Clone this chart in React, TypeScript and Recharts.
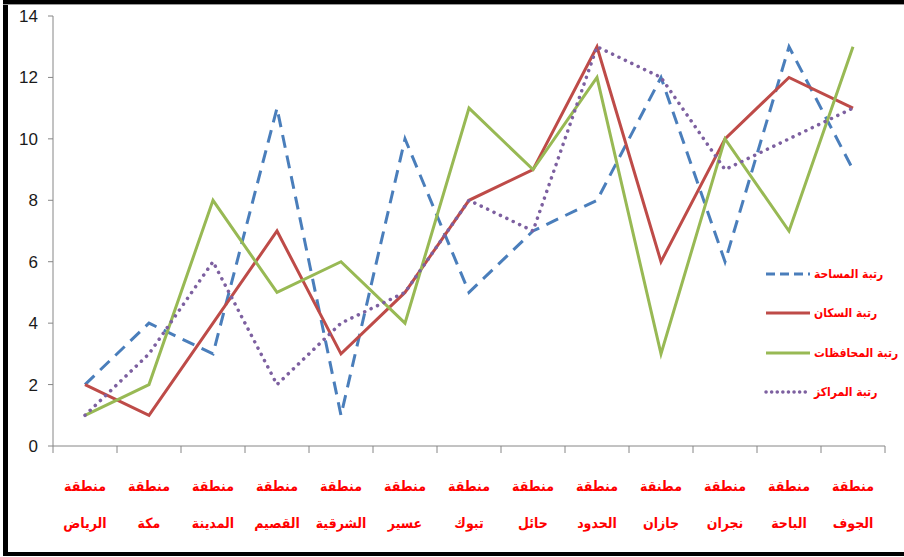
import React from 'react';
import { LineChart, Line, XAxis, YAxis, Legend } from 'recharts';

const regionPrefix = ['منطقة', 'منطقة', 'منطقة', 'منطقة', 'منطقة', 'منطقة', 'منطقة', 'منطقة', 'منطقة', 'مطنقة', 'منطقة', 'منطقة', 'منطقة'];
const regionNames = ['الرياض', 'مكة', 'المدينة', 'القصيم', 'الشرقية', 'عسير', 'تبوك', 'حائل', 'الحدود', 'جازان', 'نجران', 'الباحة', 'الجوف'];

const areaRank = [2, 4, 3, 11, 1, 10, 5, 7, 8, 12, 6, 13, 9];
const populationRank = [2, 1, 4, 7, 3, 5, 8, 9, 13, 6, 10, 12, 11];
const governoratesRank = [1, 2, 8, 5, 6, 4, 11, 9, 12, 3, 10, 7, 13];
const centersRank = [1, 3, 6, 2, 4, 5, 8, 7, 13, 12, 9, 10, 11];

const yTicks = [0, 2, 4, 6, 8, 10, 12, 14];

const seriesNames = ['رتبة المساحة', 'رتبة السكان', 'رتبة المحافظات', 'رتبة المراكز'];

const data = regionNames.map((n, i) => ({
  name: regionPrefix[i] + ' ' + n,
  prefix: regionPrefix[i],
  region: n,
  area: areaRank[i],
  pop: populationRank[i],
  gov: governoratesRank[i],
  cen: centersRank[i],
}));

const series = [
  { key: 'area', name: seriesNames[0], color: '#4A7EBB', dash: '13 8', legendDash: '9 5', cap: 'butt' as const, width: 3 },
  { key: 'pop', name: seriesNames[1], color: '#BE4B48', dash: undefined, legendDash: undefined, cap: 'butt' as const, width: 3 },
  { key: 'gov', name: seriesNames[2], color: '#98B954', dash: undefined, legendDash: undefined, cap: 'butt' as const, width: 3 },
  { key: 'cen', name: seriesNames[3], color: '#7D60A0', dash: '0.1 7', legendDash: '0.1 5.5', cap: 'round' as const, width: 3.5 },
];

const AXIS = '#868686';
const ARABIC = "'DejaVu Sans Condensed', 'DejaVu Sans'";

const XTick = (props: any) => {
  const { x, payload, index, visibleTicksCount } = props;
  const off = payload && payload.offset ? payload.offset : 0;
  const d = data[index];
  const top = 446;
  return (
    <g>
      <line x1={x - off} y1={top} x2={x - off} y2={top + 7} stroke={AXIS} strokeWidth={1} />
      {index === (visibleTicksCount ?? data.length) - 1 && (
        <line x1={x + off} y1={top} x2={x + off} y2={top + 7} stroke={AXIS} strokeWidth={1} />
      )}
      <text x={x} y={top + 45} textAnchor="middle" fill="#FF0000" fontFamily={ARABIC} fontWeight="bold" fontSize={14}>
        {d ? d.prefix : ''}
      </text>
      <text x={x} y={top + 82} textAnchor="middle" fill="#FF0000" fontFamily={ARABIC} fontWeight="bold" fontSize={14}>
        {d ? d.region : ''}
      </text>
    </g>
  );
};

const LegendContent = () => (
  <div style={{ display: 'flex', flexDirection: 'column' }}>
    {series.map((s) => (
      <div key={s.key} style={{ display: 'flex', alignItems: 'center', height: 39.5 }}>
        <svg width={48} height={10} style={{ display: 'block' }}>
          <line x1={2} y1={5} x2={46} y2={5} stroke={s.color} strokeWidth={s.width}
            strokeDasharray={s.legendDash} strokeLinecap={s.cap} />
        </svg>
        <span style={{ color: '#FF0000', fontFamily: ARABIC, fontWeight: 'bold', fontSize: 12, marginLeft: 2, direction: 'rtl', whiteSpace: 'nowrap' }}>
          {s.name}
        </span>
      </div>
    ))}
  </div>
);

export default function App() {
  return (
    <div style={{ position: 'absolute', left: 0, top: 0, width: 904, height: 557, background: '#fff', overflow: 'hidden' }}>
      <LineChart width={904} height={557} data={data} margin={{ top: 16, right: 19, left: 0, bottom: 0 }}>
        <YAxis
          domain={[0, 14]}
          ticks={yTicks}
          width={53}
          interval={0}
          axisLine={{ stroke: AXIS }}
          tickLine={{ stroke: AXIS }}
          tickSize={5}
          tickMargin={10}
          tick={{ fill: '#1a1a1a', fontSize: 17, fontFamily: 'Liberation Sans Narrow, Liberation Sans' }}
        />
        <XAxis
          dataKey="name"
          scale="band"
          height={111}
          interval={0}
          axisLine={{ stroke: AXIS }}
          tickLine={false}
          tick={<XTick />}
        />
        <Legend
          layout="vertical"
          align="center"
          verticalAlign="middle"
          content={<LegendContent />}
          wrapperStyle={{ position: 'absolute', left: 764, top: 254, width: 140 }}
        />
        {series.map((s) => (
          <Line
            key={s.key}
            type="linear"
            dataKey={s.key}
            name={s.name}
            stroke={s.color}
            strokeWidth={s.width}
            strokeDasharray={s.dash}
            strokeLinecap={s.cap}
            dot={false}
            activeDot={false}
            isAnimationActive={false}
          />
        ))}
      </LineChart>
      <div style={{ position: 'absolute', left: 3, top: 0, width: 5, height: 556, background: '#000' }} />
      <div style={{ position: 'absolute', left: 3, top: 0, width: 901, height: 4, background: '#000' }} />
      <div style={{ position: 'absolute', left: 3, top: 4, width: 901, height: 1, background: '#9a9a9a' }} />
      <div style={{ position: 'absolute', left: 3, top: 552, width: 901, height: 4, background: '#000' }} />
    </div>
  );
}
